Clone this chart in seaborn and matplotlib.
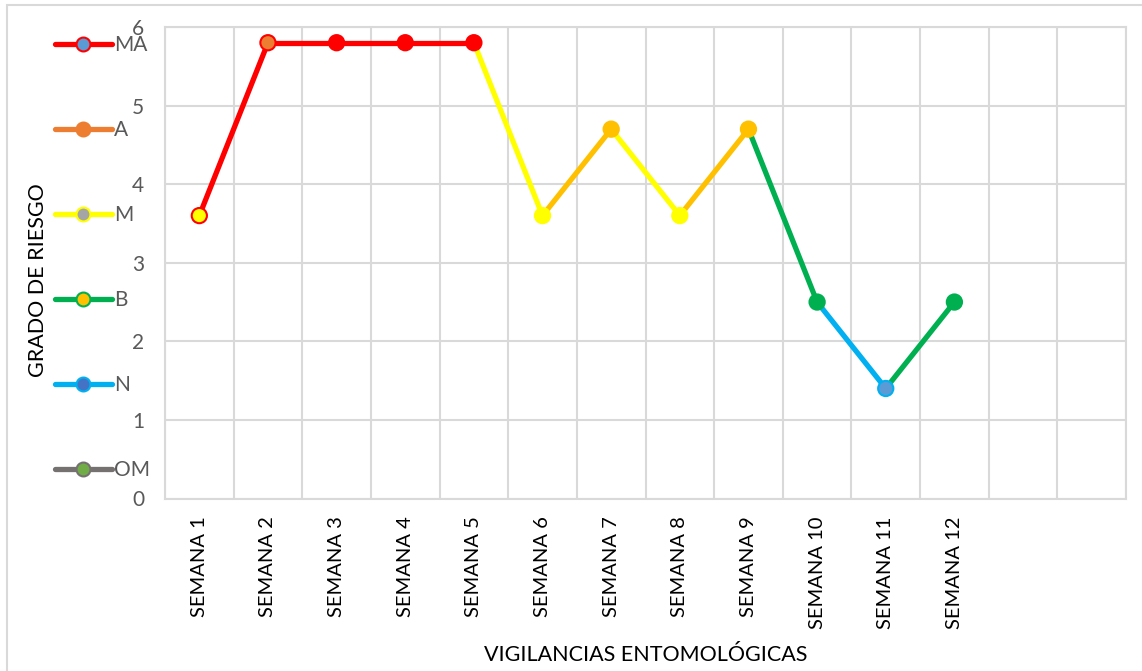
import pandas as pd
import matplotlib.pyplot as plt
import seaborn as sns
from matplotlib.lines import Line2D
from matplotlib.patches import Rectangle

# data
semanas = ['SEMANA 1', 'SEMANA 2', 'SEMANA 3', 'SEMANA 4', 'SEMANA 5', 'SEMANA 6',
           'SEMANA 7', 'SEMANA 8', 'SEMANA 9', 'SEMANA 10', 'SEMANA 11', 'SEMANA 12']
riesgo = [3.6, 5.8, 5.8, 5.8, 5.8, 3.6, 4.7, 3.6, 4.7, 2.5, 1.4, 2.5]
# colour of each segment going to the next week
seg_color = ['#FF0000', '#FF0000', '#FF0000', '#FF0000', '#FFFF00', '#FFC000',
             '#FFFF00', '#FFC000', '#00B050', '#00B0F0', '#00B050']
pt_fill = ['#FFFF00', '#ED7D31', '#FF0000', '#FF0000', '#FF0000', '#FFFF00',
           '#FFC000', '#FFFF00', '#FFC000', '#00B050', '#5B9BD5', '#00B050']
pt_edge = ['#FF0000', '#FF0000', '#FF0000', '#FF0000', '#FF0000', '#FFFF00',
           '#FFC000', '#FFFF00', '#FFC000', '#00B050', '#00B0F0', '#00B050']
n_slots = 14  # two empty categories at the end

leg_labels = ['MA', 'A', 'M', 'B', 'N', 'OM']
leg_line = ['#FF0000', '#ED7D31', '#FFFF00', '#00B050', '#00B0F0', '#767171']
leg_fill = ['#5B9BD5', '#ED7D31', '#A5A5A5', '#FFC000', '#4472C4', '#70AD47']
leg_edge = ['#FF0000', '#ED7D31', '#FFFF00', '#00B050', '#00B0F0', '#767171']

# long table: one pair of rows per segment
rows = []
for i, c in enumerate(seg_color):
    rows.append({'seg': i, 'x': i, 'y': riesgo[i], 'color': c})
    rows.append({'seg': i, 'x': i + 1, 'y': riesgo[i + 1], 'color': c})
seg_df = pd.DataFrame(rows)
pts = pd.DataFrame({'x': range(len(riesgo)), 'y': riesgo})

sns.set_style('white')
plt.rcParams['font.family'] = ['Lato', 'DejaVu Sans']

fig = plt.figure(figsize=(11.42, 6.71), dpi=100)
ax = fig.add_axes([165 / 1142, 1 - 498.5 / 671, 961 / 1142, 471.5 / 671])

for i, g in seg_df.groupby('seg'):
    sns.lineplot(data=g, x='x', y='y', color=g['color'].iloc[0], lw=3.8,
                 estimator=None, ax=ax, zorder=3, solid_capstyle='butt')
sns.scatterplot(data=pts, x='x', y='y', hue='x', palette=pt_fill, s=120,
                legend=False, ax=ax, zorder=4, linewidth=1.5, edgecolor=pt_edge)

ax.set_xlim(-0.5, n_slots - 0.5)
ax.set_ylim(0, 6)
ax.set_yticks(range(7))
ax.set_xticks(range(n_slots))
ax.set_xticklabels(semanas + [''] * (n_slots - len(semanas)), rotation=90,
                   fontsize=14.5, color='black')
ax.set_xticks([k + 0.5 for k in range(-1, n_slots)], minor=True)
ax.tick_params(axis='y', labelsize=15, colors='#595959', length=0, pad=15)
ax.tick_params(axis='x', which='both', length=0, pad=13)
ax.grid(False)
ax.grid(True, axis='y', which='major', color='#D9D9D9', lw=1.5)
ax.grid(True, axis='x', which='minor', color='#D9D9D9', lw=1.5)
for s in ax.spines.values():
    s.set_color('#D9D9D9')
    s.set_linewidth(1.5)

ax.set_xlabel('VIGILANCIAS ENTOMOLÓGICAS', fontsize=15.5, color='black')
ax.set_ylabel('GRADO DE RIESGO', fontsize=15.5, color='black')
ax.xaxis.set_label_coords(0.5, -0.31)
ax.yaxis.set_label_coords(-0.122, 0.463)

handles = [Line2D([], [], color=lc, lw=3.8, marker='o', markersize=10,
                  markerfacecolor=fc, markeredgecolor=ec, markeredgewidth=1.5)
           for lc, fc, ec in zip(leg_line, leg_fill, leg_edge)]
leg = fig.legend(handles, leg_labels, loc='upper left',
                 bbox_to_anchor=(47 / 1142, 1 - 27 / 671), frameon=False,
                 fontsize=15, labelcolor='#595959', handlelength=2.7,
                 handletextpad=0.1, labelspacing=3.12, borderaxespad=0)

fig.patches.append(Rectangle((7 / 1142, -0.01), 1.0, 1 - 5 / 671 + 0.01,
                             transform=fig.transFigure, fill=False,
                             edgecolor='#D9D9D9', lw=1.5))

fig.savefig('out.png', dpi=100)
